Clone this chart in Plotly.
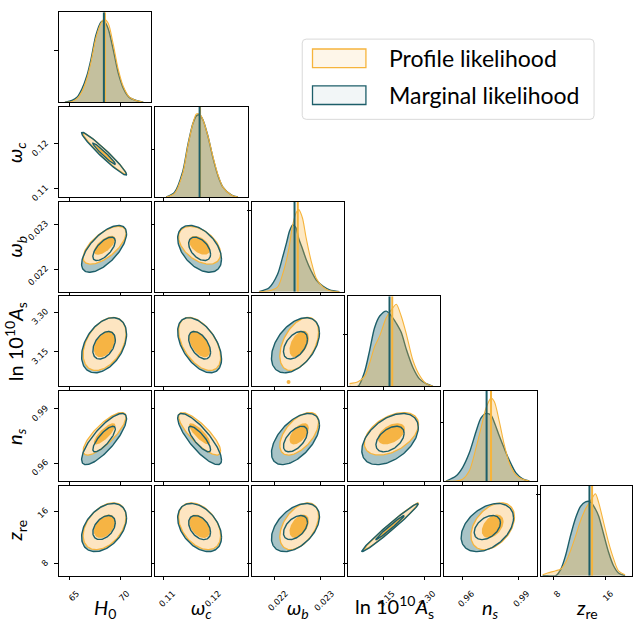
import numpy as np
import plotly.graph_objects as go

# ---------------- data ----------------
param_labels = [
    "<i>H</i><sub>0</sub>",
    "<i>ω</i><sub><i>c</i></sub>",
    "<i>ω</i><sub><i>b</i></sub>",
    "ln 10<sup>10</sup><i>A</i><sub>s</sub>",
    "<i>n</i><sub><i>s</i></sub>",
    "<i>z</i><sub>re</sub>",
]
axis_ranges = [
    [63.9, 73.1],
    [0.1081, 0.1283],
    [0.0215, 0.0235],
    [3.02, 3.36],
    [0.950, 1.000],
    [6.1, 19.95],
]
tick_values = [[65, 70], [0.11, 0.12], [0.022, 0.023], [3.15, 3.30], [0.96, 0.99], [8, 16]]
tick_labels = [["65", "70"], ["0.11", "0.12"], ["0.022", "0.023"], ["3.15", "3.30"], ["0.96", "0.99"], ["8", "16"]]
diag_tick_frac = [0.58, 0.53, 0.90, 0.57, 0.65, 0.90]

# 2D summary statistics (centre, width) per method, and correlations
mean_profile = [68.45, 0.1178, 0.02253, 3.180, 0.9762, 13.7]
sig_profile = [1.07, 0.0023, 0.00021, 0.050, 0.0059, 1.80]
mean_marginal = [68.40, 0.1178, 0.02245, 3.175, 0.9733, 13.5]
sig_marginal = [1.12, 0.0024, 0.00026, 0.052, 0.0071, 1.85]
corr = [
    [1.00, -0.97, 0.65, 0.40, 0.80, 0.40],
    [-0.97, 1.00, -0.45, -0.50, -0.82, -0.40],
    [0.65, -0.45, 1.00, 0.45, 0.55, 0.45],
    [0.40, -0.50, 0.45, 1.00, 0.45, 0.985],
    [0.80, -0.82, 0.55, 0.45, 1.00, 0.40],
    [0.40, -0.40, 0.45, 0.985, 0.40, 1.00],
]
# best-fit / mean vertical lines in the 1D panels
line_profile = [68.48, 0.1179, 0.02250, 3.183, 0.9753, 13.9]
line_marginal = [68.38, 0.1178, 0.02243, 3.173, 0.9729, 13.5]

# 1D curves (fraction of panel height) read at grid points
H0_grid = [64.5, 65.2, 65.7, 66.2, 66.7, 67.1, 67.6, 68.1, 68.4, 68.8, 69.3, 69.8, 70.3, 70.9, 71.6, 72.3]
H0_marg = [0, 0.02, 0.055, 0.15, 0.30, 0.48, 0.75, 0.89, 0.90, 0.82, 0.59, 0.33, 0.16, 0.055, 0.02, 0]
H0_prof = [0, 0.01, 0.04, 0.12, 0.27, 0.45, 0.72, 0.88, 0.92, 0.88, 0.65, 0.37, 0.18, 0.06, 0.02, 0]

wc_grid = [0.1105, 0.1123, 0.1141, 0.1152, 0.1163, 0.1171, 0.1178, 0.1185, 0.1196, 0.1207, 0.1218, 0.1229, 0.1248, 0.1262]
wc_marg = [0, 0.05, 0.28, 0.57, 0.81, 0.90, 0.91, 0.86, 0.68, 0.44, 0.24, 0.11, 0.02, 0]
wc_prof = [0, 0.04, 0.26, 0.56, 0.81, 0.92, 0.92, 0.86, 0.68, 0.45, 0.25, 0.11, 0.02, 0]

wb_grid = [0.02166, 0.02188, 0.02206, 0.02217, 0.02226, 0.02232, 0.02239, 0.02246, 0.02252, 0.02260,
           0.02268, 0.02279, 0.02290, 0.02305, 0.02319, 0.02340]
wb_marg = [0, 0.044, 0.19, 0.38, 0.55, 0.67, 0.74, 0.71, 0.59, 0.48, 0.36, 0.23, 0.13, 0.06, 0.02, 0]
wb_prof = [0, 0.01, 0.05, 0.19, 0.36, 0.52, 0.74, 0.87, 0.91, 0.82, 0.60, 0.34, 0.15, 0.05, 0.01, 0]

lnA_grid = [3.026, 3.057, 3.081, 3.100, 3.118, 3.137, 3.161, 3.185, 3.198, 3.216, 3.235, 3.259, 3.284, 3.308, 3.333]
lnA_marg = [0, 0, 0.16, 0.40, 0.65, 0.78, 0.835, 0.76, 0.70, 0.60, 0.41, 0.21, 0.08, 0.03, 0]
lnA_prof = [0.03, 0.05, 0.11, 0.26, 0.44, 0.56, 0.76, 0.87, 0.91, 0.78, 0.58, 0.29, 0.12, 0.03, 0]

ns_grid = [0.9509, 0.9563, 0.9599, 0.9635, 0.9672, 0.9699, 0.9726, 0.9753, 0.9771, 0.9798, 0.9825, 0.9852, 0.9888, 0.9924, 0.9960]
ns_marg = [0, 0.055, 0.15, 0.31, 0.55, 0.70, 0.75, 0.73, 0.65, 0.50, 0.36, 0.23, 0.09, 0.025, 0]
ns_prof = [0, 0, 0.02, 0.11, 0.37, 0.59, 0.81, 0.92, 0.88, 0.66, 0.40, 0.20, 0.066, 0.02, 0]

zre_grid = [6.4, 7.15, 8.4, 9.15, 9.9, 10.65, 11.4, 12.15, 12.9, 13.65, 14.4, 14.9, 15.65, 16.4, 17.15, 17.9, 18.9]
zre_marg = [0, 0, 0, 0.07, 0.23, 0.45, 0.64, 0.77, 0.82, 0.82, 0.74, 0.66, 0.46, 0.26, 0.11, 0.03, 0]
zre_prof = [0.01, 0.03, 0.055, 0.075, 0.15, 0.28, 0.44, 0.61, 0.74, 0.83, 0.91, 0.81, 0.59, 0.37, 0.19, 0.055, 0.01]

grids_1d = [H0_grid, wc_grid, wb_grid, lnA_grid, ns_grid, zre_grid]
marg_1d = [H0_marg, wc_marg, wb_marg, lnA_marg, ns_marg, zre_marg]
prof_1d = [H0_prof, wc_prof, wb_prof, lnA_prof, ns_prof, zre_prof]

# isolated profile-likelihood island in (omega_b, ln10^10 A_s)
island_wb = [0.02230]
island_lnA = [3.036]

legend_names = ["Profile likelihood", "Marginal likelihood"]

# ---------------- style / layout ----------------
W, H = 633, 624
PW, PH = 92.5, 91.0
left_px = [59 + i * 96.5 for i in range(6)]
top_px = [12.3 + j * 95.6 for j in range(6)]
xlabel_shift = [7, 9, 11, 9, 9, 5]
xlabel_y = [614, 614, 614, 613, 614, 614]

OR_LINE = "#f6b43c"
OR_DARK = "#f6b444"
OR_LIGHT = "#fde5c1"
TE_LINE = "#1c5e69"
TE_FILL = "#a8c4c7"
OR_1D = "rgba(247,180,56,0.30)"
TE_1D = "rgba(30,96,108,0.36)"


def ellipse(mx, my, sx, sy, rho, k):
    t = np.linspace(0, 2 * np.pi, 141)
    cov = np.array([[sx * sx, rho * sx * sy], [rho * sx * sy, sy * sy]])
    L = np.linalg.cholesky(cov)
    pts = k * (L @ np.vstack([np.cos(t), np.sin(t)]))
    return mx + pts[0], my + pts[1]


fig = go.Figure()
layout = {}
common = dict(
    showgrid=False, zeroline=False, showline=True, mirror=True,
    linecolor="black", linewidth=1, ticks="outside", ticklen=3.5,
    tickwidth=1, tickcolor="black",
    tickfont=dict(family="DejaVu Sans", size=8.5, color="black"),
)

n = 0
for r in range(6):
    for c in range(r + 1):
        n += 1
        xs, ys = f"x{n}", f"y{n}"
        x0 = left_px[c]
        x1 = min(x0 + PW, W)
        y0 = top_px[r]
        y1 = y0 + PH
        layout[f"xaxis{n}"] = dict(
            domain=[x0 / W, x1 / W], range=axis_ranges[c], anchor=ys,
            tickvals=tick_values[c], ticktext=tick_labels[c],
            showticklabels=(r == 5), tickangle=-45, ticklabelstandoff=5,
            ticklabelshift=xlabel_shift[c], **common)
        if r == c:
            layout[f"yaxis{n}"] = dict(
                domain=[1 - y1 / H, 1 - y0 / H], range=[0, 1], anchor=xs,
                tickvals=[diag_tick_frac[c]], showticklabels=False, **common)
            g = grids_1d[c]
            fig.add_trace(go.Scatter(x=g, y=marg_1d[c], xaxis=xs, yaxis=ys, mode="lines",
                                     line=dict(color=TE_LINE, width=1.4, shape="spline", smoothing=0.8),
                                     fill="tozeroy", fillcolor=TE_1D, showlegend=False, hoverinfo="skip"))
            fig.add_trace(go.Scatter(x=g, y=prof_1d[c], xaxis=xs, yaxis=ys, mode="lines",
                                     line=dict(color=OR_LINE, width=1.1, shape="spline", smoothing=0.8),
                                     fill="tozeroy", fillcolor=OR_1D, showlegend=False, hoverinfo="skip"))
            fig.add_trace(go.Scatter(x=[line_profile[c]] * 2, y=[0, 1], xaxis=xs, yaxis=ys, mode="lines",
                                     line=dict(color=OR_LINE, width=2), showlegend=False, hoverinfo="skip"))
            fig.add_trace(go.Scatter(x=[line_marginal[c]] * 2, y=[0, 1], xaxis=xs, yaxis=ys, mode="lines",
                                     line=dict(color=TE_LINE, width=2), showlegend=False, hoverinfo="skip"))
        else:
            layout[f"yaxis{n}"] = dict(
                domain=[1 - y1 / H, 1 - y0 / H], range=axis_ranges[r], anchor=xs,
                tickvals=tick_values[r], ticktext=tick_labels[r],
                showticklabels=(c == 0), tickangle=-45, ticklabelstandoff=7,
                ticklabelshift=-2, **common)
            rho = corr[r][c]
            mx, my, sx, sy = mean_marginal[c], mean_marginal[r], sig_marginal[c], sig_marginal[r]
            px_, py_, psx, psy = mean_profile[c], mean_profile[r], sig_profile[c], sig_profile[r]
            ex, ey = ellipse(mx, my, sx, sy, rho, 2)
            fig.add_trace(go.Scatter(x=ex, y=ey, xaxis=xs, yaxis=ys, mode="lines", fill="toself",
                                     fillcolor=TE_FILL, line=dict(width=0, color=TE_FILL),
                                     showlegend=False, hoverinfo="skip"))
            ox2, oy2 = ellipse(px_, py_, psx, psy, rho, 2)
            fig.add_trace(go.Scatter(x=ox2, y=oy2, xaxis=xs, yaxis=ys, mode="lines", fill="toself",
                                     fillcolor=OR_LIGHT, line=dict(width=0, color=OR_LIGHT),
                                     showlegend=False, hoverinfo="skip"))
            ox1, oy1 = ellipse(px_, py_, psx, psy, rho, 1)
            fig.add_trace(go.Scatter(x=ox1, y=oy1, xaxis=xs, yaxis=ys, mode="lines", fill="toself",
                                     fillcolor=OR_DARK, line=dict(width=0, color=OR_DARK),
                                     showlegend=False, hoverinfo="skip"))
            fig.add_trace(go.Scatter(x=ox2, y=oy2, xaxis=xs, yaxis=ys, mode="lines",
                                     line=dict(width=1.3, color=OR_LINE),
                                     showlegend=False, hoverinfo="skip"))
            for k in (1, 2):
                tx, ty = ellipse(mx, my, sx, sy, rho, k)
                fig.add_trace(go.Scatter(x=tx, y=ty, xaxis=xs, yaxis=ys, mode="lines",
                                         line=dict(width=1.4, color=TE_LINE),
                                         showlegend=False, hoverinfo="skip"))
            if r == 3 and c == 2:
                fig.add_trace(go.Scatter(x=island_wb, y=island_lnA, xaxis=xs, yaxis=ys, mode="markers",
                                         marker=dict(size=4, color=OR_DARK, line=dict(width=0)),
                                         showlegend=False, hoverinfo="skip"))

# axis labels
annotations = []
LABEL_FONT = dict(family="Lato", size=20, color="black")
for i in range(6):
    cx = left_px[i] + PW / 2
    annotations.append(dict(x=cx / W, y=1 - xlabel_y[i] / H, xref="paper", yref="paper",
                            text=param_labels[i], showarrow=False, font=LABEL_FONT,
                            xanchor="center", yanchor="middle"))
for j in range(1, 6):
    cy = top_px[j] + PH / 2
    annotations.append(dict(x=16 / W, y=1 - cy / H, xref="paper", yref="paper",
                            text=param_labels[j], showarrow=False, font=LABEL_FONT,
                            textangle=-90, xanchor="center", yanchor="middle"))

# legend drawn as shapes + text
def rrect(x0, y0, x1, y1, rad):
    rx, ry = rad / W, rad / H
    X0, X1 = x0 / W, x1 / W
    Y0, Y1 = 1 - y1 / H, 1 - y0 / H
    return (f"M {X0+rx},{Y0} L {X1-rx},{Y0} Q {X1},{Y0} {X1},{Y0+ry} L {X1},{Y1-ry} "
            f"Q {X1},{Y1} {X1-rx},{Y1} L {X0+rx},{Y1} Q {X0},{Y1} {X0},{Y1-ry} "
            f"L {X0},{Y0+ry} Q {X0},{Y0} {X0+rx},{Y0} Z")

shapes = [dict(type="path", xref="paper", yref="paper", path=rrect(302.7, 39.5, 595, 120.5, 4),
               line=dict(color="#d9d9d9", width=1), fillcolor="rgba(255,255,255,0.9)")]
patch_rows = [(49.5, 68.3), (86.7, 105.5)]
patch_cols = [(OR_LINE, "rgba(253,229,193,0.35)"), (TE_LINE, "rgba(168,196,199,0.15)")]
for (ya, yb), (lc, fc), name in zip(patch_rows, patch_cols, legend_names):
    shapes.append(dict(type="rect", xref="paper", yref="paper",
                       x0=313 / W, x1=366.5 / W, y0=1 - yb / H, y1=1 - ya / H,
                       line=dict(color=lc, width=1.3), fillcolor=fc))
    annotations.append(dict(x=388 / W, y=1 - (ya + yb) / 2 / H, xref="paper", yref="paper",
                            text=name, showarrow=False, xanchor="left", yanchor="middle",
                            font=dict(family="Lato", size=23, color="black")))

fig.update_layout(
    width=W, height=H, margin=dict(l=0, r=0, t=0, b=0),
    paper_bgcolor="white", plot_bgcolor="white", showlegend=False,
    annotations=annotations, shapes=shapes, **layout)

fig.write_html("out.html")
